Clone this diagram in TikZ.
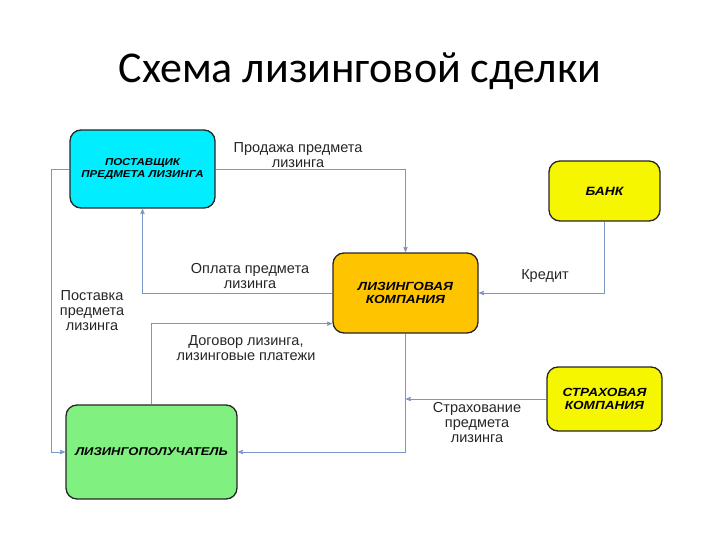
\documentclass[tikz,border=0pt]{standalone}
\usepackage{fontspec}
\setmainfont{Liberation Sans}
\newfontfamily\titlefont{Carlito}
\newfontfamily\boxfont[FakeStretch=1.15]{Liberation Sans}
\usetikzlibrary{arrows,positioning}

\definecolor{linkblue}{RGB}{122,150,200}
\definecolor{suppliercyan}{RGB}{0,238,255}
\definecolor{bankyellow}{RGB}{246,246,0}
\definecolor{companygold}{RGB}{255,196,0}
\definecolor{lesseegreen}{RGB}{128,240,128}

\begin{document}
\begin{tikzpicture}
[x=1pt,y=-1pt,>=stealth',
  box/.style={draw=black!85,line width=1.3pt,rounded corners=11pt,align=center,
    inner sep=2pt,font=\boxfont\bfseries\itshape\fontsize{10}{12}\selectfont},
  flow/.style={->,draw=linkblue,line width=0.8pt,shorten >=0.5pt},
  lbl/.style={align=center,inner sep=1pt,text=black!85,font=\fontsize{14.5}{15}\selectfont}]

  \useasboundingbox (0,0) rectangle (720,540);

  \node[anchor=base] (title) at (360,83) {\titlefont\fontsize{44}{50}\selectfont Схема лизинговой сделки};

  % participants
  \node[box,fill=suppliercyan,minimum width=145pt,minimum height=78pt] (supplier) at (142.5,169) {ПОСТАВЩИК\\ПРЕДМЕТА ЛИЗИНГА};
  \node[box,fill=bankyellow,minimum width=111pt,minimum height=60pt,font=\boxfont\bfseries\itshape\fontsize{12}{14}\selectfont] (bank) at (604.5,191) {БАНК};
  \node[box,fill=companygold,minimum width=145pt,minimum height=80pt,font=\boxfont\bfseries\itshape\fontsize{11.8}{13.5}\selectfont] (company) at (405.5,293) {ЛИЗИНГОВАЯ\\КОМПАНИЯ};
  \node[box,fill=bankyellow,minimum width=115pt,minimum height=64pt,font=\boxfont\bfseries\itshape\fontsize{11.8}{13.5}\selectfont] (insurer) at (604.5,399) {СТРАХОВАЯ\\КОМПАНИЯ};
  \node[box,fill=lesseegreen,minimum width=171pt,minimum height=94pt,font=\boxfont\bfseries\itshape\fontsize{11.3}{14}\selectfont] (lessee) at (151.5,452) {ЛИЗИНГОПОЛУЧАТЕЛЬ};

  % flows
  \draw[flow] (supplier.east) -| (company.north);
  \draw[flow] (company.west) -| (supplier.south);
  \draw[flow] (supplier.west) -- ++(-18,0) |- (lessee.west);
  \draw[flow] (lessee.north) |- ([yshift=10pt]company.south west);
  \draw[flow] (company.south) |- (lessee.east);
  \draw[flow] (insurer.west) -- (insurer.west -| company.south);
  \draw[flow] (bank.south) |- (company.east);

  % captions
  \node[lbl] (salelbl) at (298,155) {Продажа предмета\\лизинга};
  \node[lbl] (paylbl) at (250,276) {Оплата предмета\\лизинга};
  \node[lbl] (deliverylbl) at (92,311) {Поставка\\предмета\\лизинга};
  \node[lbl] (contractlbl) at (246,348) {Договор лизинга,\\лизинговые платежи};
  \node[lbl] (creditlbl) at (545,276) {Кредит};
  \node[lbl] (insurancelbl) at (477,423) {Страхование\\предмета\\лизинга};

\end{tikzpicture}
\end{document}
